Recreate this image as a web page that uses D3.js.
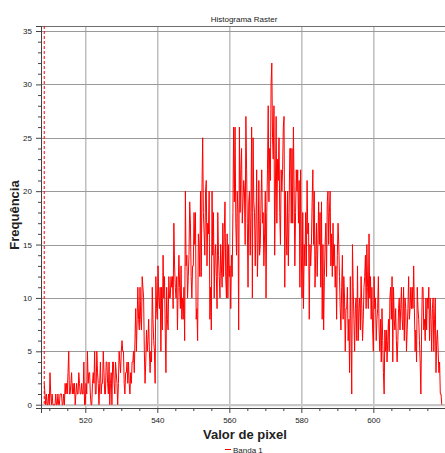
<!DOCTYPE html>
<html>
<head>
<meta charset="utf-8">
<script src="https://cdn.jsdelivr.net/npm/d3@7"></script>
<style>
  html, body { margin: 0; padding: 0; background: #fff; }
  svg { display: block; }
  text { font-family: "Liberation Sans", Arial, sans-serif; fill: #222; }
</style>
</head>
<body>
<script>
// ---- data ----
const chartTitle = "Histograma Raster";
const xTitle = "Valor de pixel";
const yTitle = "Frequência";
const seriesName = "Banda 1";
const binStart = 508.6;   // first bin value
const binStep = 0.2;      // bin width
const counts = [
  2,1,0,1,0,0,1,0,3,1,0,1,0,0,0,
  0,1,0,0,1,0,0,1,1,1,0,0,1,0,2,
  1,2,1,3,5,1,1,2,3,1,2,1,2,0,1,
  2,1,1,3,2,1,1,2,1,1,4,0,0,2,1,
  5,2,3,3,1,0,0,2,3,2,5,1,1,5,3,
  2,0,2,4,1,2,2,5,3,1,1,4,4,2,1,
  4,0,2,3,0,4,4,2,1,4,3,2,0,2,5,
  4,3,5,6,5,5,2,1,3,3,4,2,4,2,1,
  3,2,4,4,5,3,6,9,5,8,11,8,7,11,8,
  7,12,11,10,5,2,4,7,5,6,8,5,3,5,4,
  11,8,6,5,2,12,9,8,13,10,9,11,5,11,7,
  14,10,12,7,3,11,8,7,12,10,10,12,11,12,9,
  17,13,11,10,12,7,11,14,11,9,13,8,10,8,11,
  6,20,13,14,10,12,14,19,17,12,10,13,13,18,15,
  18,8,9,6,16,15,12,20,12,20,25,18,16,14,20,
  21,13,17,16,20,8,11,7,20,14,18,10,14,15,12,
  9,18,14,12,10,15,13,11,17,12,16,19,12,10,16,
  10,15,12,13,9,14,12,18,26,19,26,17,14,20,18,
  7,26,18,22,24,17,19,21,20,15,27,22,17,11,19,
  20,14,18,26,10,25,19,18,13,17,22,12,15,21,14,
  15,19,22,17,18,13,16,20,10,18,22,28,19,24,21,
  30,32,25,23,28,14,20,27,17,23,21,25,18,15,22,
  20,22,26,27,11,20,16,14,20,13,18,24,24,17,24,
  17,26,20,13,18,22,20,22,17,21,11,22,14,10,18,
  9,15,13,18,13,21,16,17,8,15,13,15,19,22,15,
  20,11,14,17,12,15,19,15,18,11,19,8,15,7,12,
  15,17,12,19,20,15,18,20,13,16,12,17,13,15,11,
  13,8,14,17,15,12,9,7,11,14,8,12,10,5,9,
  9,11,6,8,3,12,7,1,15,11,8,5,9,10,6,
  13,6,9,10,7,12,9,6,8,11,12,14,9,15,11,
  9,16,10,12,8,11,7,5,12,9,10,6,8,9,12,
  7,5,8,4,9,6,3,1,7,5,7,4,6,8,5,
  10,11,8,12,4,11,8,7,9,6,4,6,9,10,7,
  9,11,8,7,11,6,10,9,5,7,9,12,8,9,11,
  9,11,9,13,9,5,7,4,11,9,8,6,4,1,7,
  11,11,7,8,6,10,7,10,9,11,6,10,8,5,9,
  10,5,8,10,3,6,7,5,3,4,1,1,0
];
const minMarker = 508.6;
const xTicks = [520, 540, 560, 580, 600];
const xMinorTicks = [510, 515, 525, 530, 535, 545, 550, 555, 565, 570, 575, 585, 590, 595, 605, 610, 615];
const yTicks = [0, 5, 10, 15, 20, 25, 30, 35];
const xDomain = [507.7, 619.9];
const yDomain = [-0.31, 35.47];

// ---- layout ----
const W = 445, H = 453;
const plot = { left: 41, right: 445, top: 26, bottom: 408 };

const svg = d3.select("body").append("svg").attr("width", W).attr("height", H);

const x = d3.scaleLinear().domain(xDomain).range([plot.left, plot.right]);
const y = d3.scaleLinear().domain(yDomain).range([plot.bottom, plot.top]);

const points = counts.map((c, i) => ({ v: binStart + i * binStep, c }));

// grid
const grid = svg.append("g");
grid.selectAll("line.gx").data(xTicks).join("line")
  .attr("x1", d => x(d) + 0.5).attr("x2", d => x(d) + 0.5)
  .attr("y1", plot.top).attr("y2", plot.bottom)
  .attr("stroke", "#b4b4b4").attr("stroke-width", 1.3);
grid.selectAll("line.gy").data(yTicks.filter(d => d > 0)).join("line")
  .attr("x1", plot.left).attr("x2", plot.right)
  .attr("y1", d => Math.round(y(d)) + 0.5).attr("y2", d => Math.round(y(d)) + 0.5)
  .attr("stroke", "#9a9a9a").attr("stroke-width", 1);
grid.append("line")
  .attr("x1", plot.left).attr("x2", plot.right)
  .attr("y1", y(0) + 0.5).attr("y2", y(0) + 0.5)
  .attr("stroke", "#c8c8c8").attr("stroke-width", 2.2);

// frame top
svg.append("line").attr("x1", plot.left).attr("x2", plot.right)
  .attr("y1", plot.top + 0.5).attr("y2", plot.top + 0.5)
  .attr("stroke", "#6e6e6e").attr("stroke-width", 1);

// min marker
svg.append("line")
  .attr("x1", x(minMarker)).attr("x2", x(minMarker))
  .attr("y1", plot.top).attr("y2", y(0))
  .attr("stroke", "#ff0000").attr("stroke-width", 1)
  .attr("stroke-dasharray", "3,2");

// series line
svg.append("path").datum(points)
  .attr("fill", "none").attr("stroke", "#ff0000").attr("stroke-width", 1)
  .attr("stroke-linejoin", "miter")
  .attr("d", d3.line().x(d => x(d.v)).y(d => y(d.c)));

// axes
const xAxis = d3.axisBottom(x).tickValues(xTicks).tickSize(5).tickPadding(4).tickFormat(d3.format("d"));
const gx = svg.append("g").attr("transform", `translate(0,${plot.bottom})`).call(xAxis);
gx.select(".domain").attr("stroke", "#444");
gx.selectAll(".tick line").attr("stroke", "#444");
gx.selectAll(".tick text").style("font-size", "8px").attr("fill", "#222")
  .style("font-family", '"Liberation Sans", Arial, sans-serif');
svg.append("g").attr("transform", `translate(0,${plot.bottom})`)
  .call(d3.axisBottom(x).tickValues(xMinorTicks).tickSize(3).tickFormat(""))
  .call(g => g.select(".domain").remove())
  .call(g => g.selectAll(".tick line").attr("stroke", "#444"));

const yAxis = d3.axisLeft(y).tickValues(yTicks).tickSize(5).tickPadding(4).tickFormat(d3.format("d"));
const gy = svg.append("g").attr("transform", `translate(${plot.left},0)`).call(yAxis);
gy.select(".domain").attr("stroke", "#444");
gy.selectAll(".tick line").attr("stroke", "#444");
gy.selectAll(".tick text").style("font-size", "8px").attr("fill", "#222")
  .style("font-family", '"Liberation Sans", Arial, sans-serif');
const yMinor = d3.range(0, 36).filter(v => v % 5 !== 0);
svg.append("g").attr("transform", `translate(${plot.left},0)`)
  .call(d3.axisLeft(y).tickValues(yMinor).tickSize(3).tickFormat(""))
  .call(g => g.select(".domain").remove())
  .call(g => g.selectAll(".tick line").attr("stroke", "#444"));

// titles
svg.append("text").attr("x", 244).attr("y", 22).attr("text-anchor", "middle")
  .style("font-size", "8px").text(chartTitle);
svg.append("text").attr("x", 245).attr("y", 439).attr("text-anchor", "middle")
  .style("font-size", "13px").style("font-weight", "bold").attr("fill", "#000").text(xTitle);
svg.append("text").attr("transform", "translate(19,215) rotate(-90)").attr("text-anchor", "middle")
  .style("font-size", "13px").style("font-weight", "bold").attr("fill", "#000").text(yTitle);

// legend
svg.append("line").attr("x1", 225).attr("x2", 231).attr("y1", 449.5).attr("y2", 449.5)
  .attr("stroke", "#ff0000").attr("stroke-width", 1);
svg.append("text").attr("x", 233).attr("y", 452.5).style("font-size", "8px").text(seriesName);
</script>
</body>
</html>
